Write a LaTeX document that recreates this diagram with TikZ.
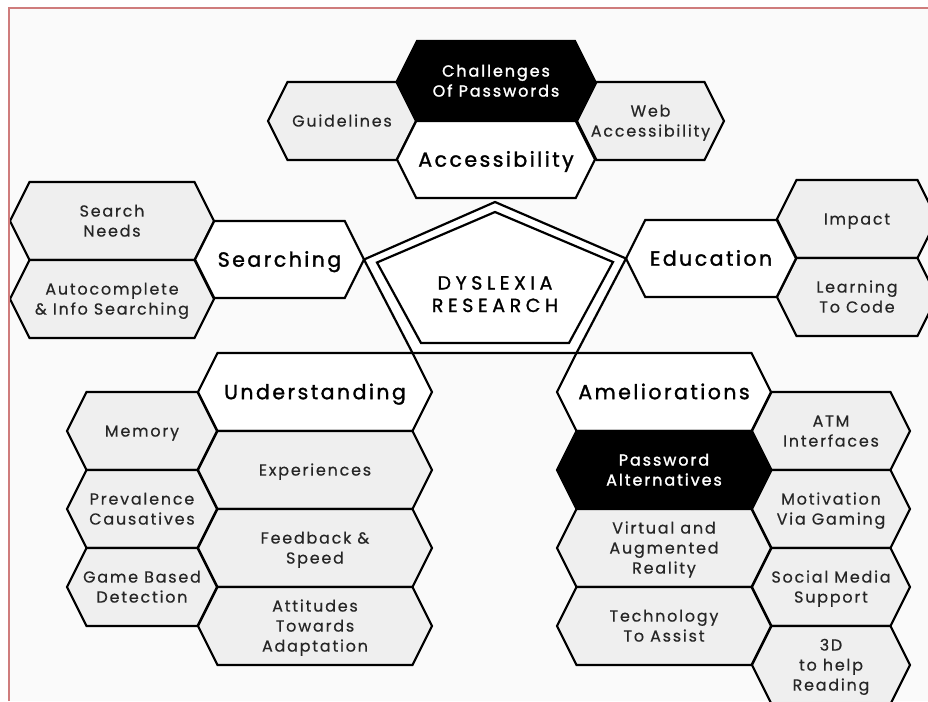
\documentclass[tikz,border=0pt]{standalone}
\usepackage{fontspec}
\setmainfont{Poppins}
\newfontfamily\labelfont{Poppins}[LetterSpace=11,FakeBold=0.4]
\newfontfamily\headfont{Poppins}[LetterSpace=12,FakeBold=1.5]
\newfontfamily\centrefont{Poppins}[LetterSpace=24,FakeBold=1.2]

\definecolor{paper}{HTML}{FAFAFA}
\definecolor{cellgrey}{HTML}{EFEFEF}
\definecolor{framered}{HTML}{CF7C7C}
\definecolor{ink}{HTML}{262626}

% cap heights and line pitch of the three label kinds (in px units)
\def\capleaf{11.2}\def\skipleaf{20}
\def\caphead{14.4}\def\skiphead{24}
\def\capdark{11.2}\def\skipdark{20}

\tikzset{
  cell/.style={draw=black, line width=2.2pt, line join=miter},
  leafcell/.style={cell, fill=cellgrey},
  headcell/.style={cell, fill=white},
  darkcell/.style={cell, fill=black},
  leaftext/.style={text=ink, align=center, inner sep=0pt,
    font=\labelfont\fontsize{16}{20}\selectfont},
  headtext/.style={text=black, align=center, inner sep=0pt,
    font=\headfont\fontsize{20.5}{24}\selectfont},
  darktext/.style={text=white, align=center, inner sep=0pt,
    font=\headfont\fontsize{16}{20}\selectfont},
  centretext/.style={text=black, align=center, inner sep=0pt,
    font=\centrefont\fontsize{19}{22.5}\selectfont},
  ring/.style={draw=black, line width=2.2pt, line join=miter},
  framerule/.style={draw=framered, line width=2pt},
}

% flat-topped hexagonal cell:
% #1 name, #2 left tip x, #3 right tip x, #4 top y, #5 bottom y,
% #6 kind (leaf/head/dark), #7 number of text lines, #8 label
% (the base anchor of a multi-line label sits on its last line)
\newcommand{\honeycell}[8]{%
  \pgfmathsetmacro{\cellslant}{(#5-#4)/4}%
  \pgfmathsetmacro{\cellmid}{(#4+#5)/2}%
  \pgfmathsetmacro{\cellbase}{\cellmid + \csname cap#6\endcsname/2 + (#7-1)*\csname skip#6\endcsname/2}%
  \draw[#6cell] (#2,\cellmid) -- ({#2+\cellslant},#4) -- ({#3-\cellslant},#4)
    -- (#3,\cellmid) -- ({#3-\cellslant},#5) -- ({#2+\cellslant},#5) -- cycle;
  \node[#6text, anchor=base] (#1) at ({(#2+#3)/2},\cellbase) {#8};
}

\begin{document}
\begin{tikzpicture}[x=1pt,y=-1pt]
\useasboundingbox (0,0) rectangle (928,701);
\clip (0,0) rectangle (928,701);
\fill[white] (0,0) rectangle (928,701);
\fill[paper] (8.5,7.8) rectangle (928,701);

% --- Accessibility group
\honeycell{guide}{268}{416}{82}{160}{leaf}{1}{Guidelines}
\honeycell{web}{577}{724}{82}{160}{leaf}{2}{Web\\Accessibility}
\honeycell{chal}{397}{595}{41}{121}{dark}{2}{Challenges\\Of Passwords}
\honeycell{acc}{397}{595}{121}{198}{head}{1}{Accessibility}

% --- Searching group
\honeycell{needs}{10}{214}{182}{260}{leaf}{2}{Search\\Needs}
\honeycell{autoc}{10}{214}{260}{338}{leaf}{2}{Autocomplete\\\& Info Searching}
\honeycell{search}{195}{364}{221}{298}{head}{1}{Searching}

% --- Education group
\honeycell{impact}{777}{937}{180}{258}{leaf}{1}{Impact}
\honeycell{learn}{777}{937}{258}{336}{leaf}{2}{Learning\\To Code}
\honeycell{edu}{626}{796}{220}{297}{head}{1}{Education}

% --- Understanding group
\honeycell{memory}{67}{217}{392}{470}{leaf}{1}{Memory}
\honeycell{preval}{67}{217}{470}{548}{leaf}{2}{Prevalence\\Causatives}
\honeycell{game}{67}{217}{548}{626}{leaf}{2}{Game Based\\Detection}
\honeycell{under}{198}{432}{353}{431}{head}{1}{Understanding}
\honeycell{exper}{198}{432}{431}{509}{leaf}{1}{Experiences}
\honeycell{feed}{198}{432}{509}{587}{leaf}{2}{Feedback \&\\Speed}
\honeycell{attit}{198}{432}{587}{665}{leaf}{3}{Attitudes\\Towards\\Adaptation}

% --- Ameliorations group
\honeycell{atm}{752}{910}{392}{470}{leaf}{2}{ATM\\Interfaces}
\honeycell{motiv}{752}{910}{470}{548}{leaf}{2}{Motivation\\Via Gaming}
\honeycell{social}{752}{910}{548}{626}{leaf}{2}{Social Media\\Support}
\honeycell{threed}{752}{910}{626}{704}{leaf}{3}{3D\\to help\\Reading}
\honeycell{amel}{557}{771}{353}{431}{head}{1}{Ameliorations}
\honeycell{pwd}{557}{771}{431}{509}{dark}{2}{Password\\Alternatives}
\honeycell{virt}{557}{771}{509}{587}{leaf}{3}{Virtual and\\Augmented\\Reality}
\honeycell{tech}{557}{771}{587}{665}{leaf}{2}{Technology\\To Assist}

% --- central double pentagon
\draw[ring, fill=white] (495,202) -- (626,258.5) -- (576.5,353) -- (412.5,353) -- (364,259.5) -- cycle;
\draw[ring] (495,212) -- (613,262) -- (569,343) -- (421,343) -- (377,262.5) -- cycle;
\node[centretext, anchor=base] (core) at (495,312) {DYSLEXIA\\RESEARCH};

% page frame
\draw[framerule] (8.5,701) -- (8.5,7.8) -- (928,7.8);
\end{tikzpicture}
\end{document}
